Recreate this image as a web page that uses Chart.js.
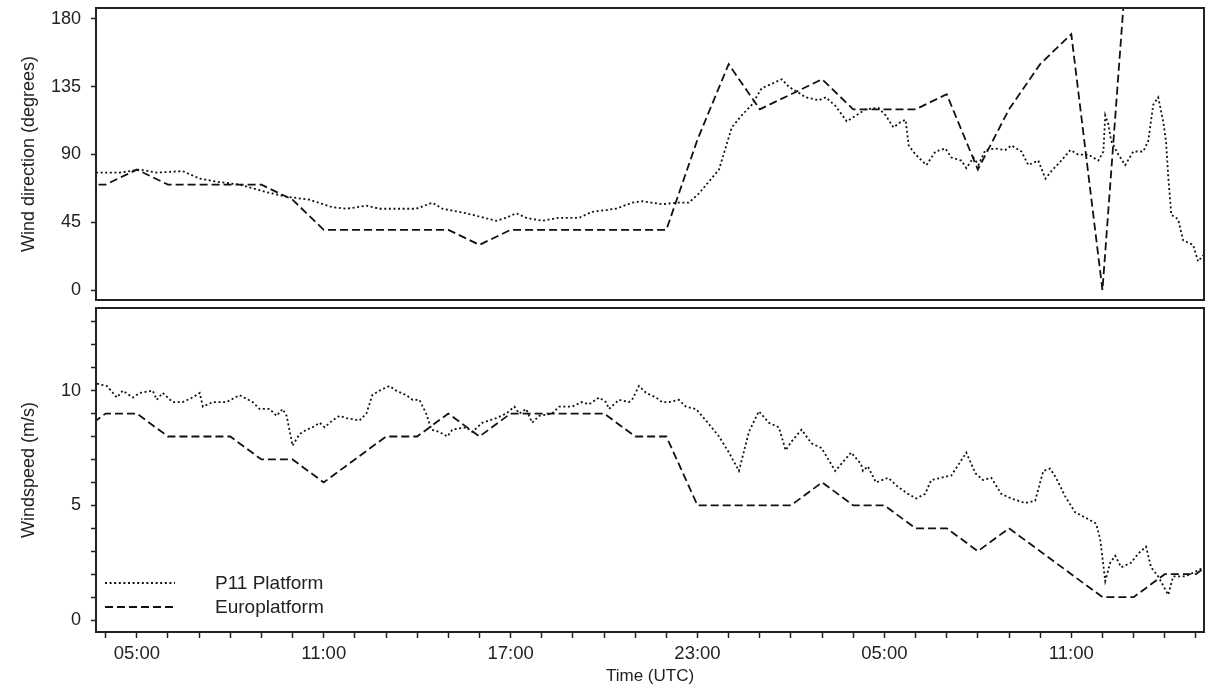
<!DOCTYPE html>
<html lang="en">
<head>
<meta charset="UTF-8">
<title>Wind direction and windspeed</title>
<script src="https://cdn.jsdelivr.net/npm/chart.js"></script>
<style>
  body { margin: 0; background: #fff; }
  canvas { position: absolute; left: 0; }
  #dirChart { top: 0; }
  #speedChart { top: 304px; }
</style>
</head>
<body>
<canvas id="dirChart" width="1206" height="304"></canvas>
<canvas id="speedChart" width="1206" height="389"></canvas>
<script>
// time in hours counted from 00:00 of the first day
const euroHours = [3, 4, 5, 6, 7, 8, 9, 10, 11, 12, 13, 14, 15, 16, 17, 18, 19, 20, 21,
  22, 23, 24, 25, 26, 27, 28, 29, 30, 31, 32, 33, 34, 35, 36, 37, 38, 39, 40];
const euroDir = [70, 70, 80, 70, 70, 70, 70, 60, 40, 40, 40, 40, 40, 30, 40, 40, 40, 40, 40,
  40, 100, 150, 120, 130, 140, 120, 120, 120, 130, 80, 120, 150, 170, 0, 280, null, null, null];
const euroSpeed = [8, 9, 9, 8, 8, 8, 7, 7, 6, 7, 8, 8, 9, 8, 9, 9, 9, 9, 8,
  8, 5, 5, 5, 5, 6, 5, 5, 4, 4, 3, 4, 3, 2, 1, 1, 2, 2, 3];

const p11DirHours = [3.69, 4.46, 5.10, 5.64, 6.47, 7.02, 7.56, 8.30, 9.17, 9.81, 10.54, 11.28,
  11.73, 12.37, 12.79, 13.43, 13.97, 14.49, 14.81, 15.58, 16.54, 16.86, 17.18, 17.50, 18.01,
  18.56, 19.20, 19.62, 20.38, 20.90, 21.22, 21.86, 22.31, 22.72, 23.04, 23.69, 24.10, 24.42,
  24.74, 25.06, 25.71, 25.93, 26.25, 26.47, 26.89, 27.12, 27.44, 27.79, 28.40, 28.81, 29.04,
  29.29, 29.55, 29.68, 29.78, 30.00, 30.35, 30.64, 30.96, 31.15, 31.47, 31.63, 31.86, 32.02,
  32.24, 32.56, 32.88, 33.08, 33.40, 33.62, 33.94, 34.17, 34.36, 34.68, 34.97, 35.22, 35.54,
  35.87, 36.03, 36.09, 36.19, 36.28, 36.51, 36.73, 36.99, 37.31, 37.47, 37.63, 37.79, 37.95,
  38.04, 38.11, 38.21, 38.43, 38.59, 38.91, 39.07, 39.23];
const p11Dir = [78, 78, 80, 78, 79, 74, 72, 70, 65, 62, 60, 55,
  54, 56, 54, 54, 54, 58, 54, 51, 46, 48, 51, 48, 46,
  48, 48, 52, 54, 58, 59, 57, 58, 58, 64, 80, 108, 116,
  123, 134, 140, 135, 131, 128, 126, 128, 122, 112, 120, 121, 116,
  108, 112, 113, 96, 90, 83, 92, 94, 88, 86, 81, 88, 83,
  93, 94, 93, 96, 92, 83, 86, 74, 79, 86, 93, 90, 90,
  86, 92, 116, 110, 99, 90, 83, 92, 92, 99, 123, 128, 112,
  99, 76, 50, 47, 33, 30, 19, 23];

const p11SpeedHours = [3.72, 4.04, 4.36, 4.55, 4.87, 5.10, 5.51, 5.64, 5.83, 6.15, 6.47, 6.79,
  7.02, 7.12, 7.44, 7.88, 8.30, 8.72, 8.94, 9.26, 9.49, 9.68, 9.81, 10.00, 10.22, 10.45, 10.64,
  10.87, 11.03, 11.28, 11.51, 11.73, 12.15, 12.37, 12.56, 12.79, 13.11, 13.33, 13.65, 13.85,
  14.07, 14.29, 14.46, 14.71, 14.97, 15.13, 15.58, 15.77, 16.09, 16.54, 16.86, 17.12, 17.28,
  17.50, 17.69, 17.92, 18.33, 18.56, 18.97, 19.29, 19.52, 19.84, 20.06, 20.16, 20.48, 20.80,
  20.90, 21.12, 21.35, 21.67, 21.86, 22.08, 22.40, 22.63, 22.95, 23.27, 23.69, 24.01, 24.33,
  24.65, 24.97, 25.29, 25.61, 25.83, 26.03, 26.34, 26.66, 26.98, 27.42, 27.93, 28.25, 28.31,
  28.47, 28.73, 29.12, 29.44, 29.76, 30.02, 30.31, 30.50, 30.82, 31.15, 31.63, 31.92, 32.17,
  32.43, 32.75, 33.07, 33.52, 33.84, 34.10, 34.32, 34.51, 34.80, 35.12, 35.54, 35.80, 35.93,
  36.09, 36.25, 36.41, 36.60, 36.92, 37.15, 37.40, 37.56, 37.79, 38.11, 38.27, 38.65, 38.97, 39.26];
const p11Speed = [10.3, 10.2, 9.7, 10.0, 9.7, 9.9, 10.0, 9.6, 9.9, 9.5, 9.5, 9.7,
  9.9, 9.3, 9.5, 9.5, 9.8, 9.5, 9.2, 9.2, 8.9, 9.2, 8.9, 7.6, 8.1, 8.3, 8.4,
  8.6, 8.4, 8.7, 8.9, 8.8, 8.7, 9.0, 9.8, 10.0, 10.2, 10.0, 9.8, 9.6,
  9.6, 9.0, 8.3, 8.2, 8.0, 8.3, 8.4, 8.2, 8.6, 8.8, 9.0, 9.3, 9.0,
  9.2, 8.6, 8.9, 9.0, 9.3, 9.3, 9.5, 9.4, 9.7, 9.5, 9.2, 9.6, 9.5,
  9.6, 10.2, 9.9, 9.7, 9.5, 9.5, 9.6, 9.3, 9.2, 8.7, 8.0, 7.3, 6.5,
  8.2, 9.1, 8.6, 8.4, 7.4, 7.8, 8.3, 7.7, 7.5, 6.5, 7.3, 6.8, 6.5,
  6.7, 6.0, 6.2, 5.8, 5.5, 5.3, 5.5, 6.1, 6.2, 6.3, 7.3, 6.4, 6.1,
  6.2, 5.5, 5.3, 5.1, 5.2, 6.5, 6.6, 6.2, 5.4, 4.7, 4.4, 4.2, 3.5,
  1.7, 2.5, 2.8, 2.3, 2.5, 2.9, 3.2, 2.3, 1.9, 1.1, 1.9, 1.9, 2.1, 2.3];

const timeTicks = [4, 5, 6, 7, 8, 9, 10, 11, 12, 13, 14, 15, 16, 17, 18, 19, 20, 21, 22, 23,
  24, 25, 26, 27, 28, 29, 30, 31, 32, 33, 34, 35, 36, 37, 38, 39];
const timeLabels = [5, 11, 17, 23, 29, 35];
const dirTicks = [0, 45, 90, 135, 180];
const speedTicks = [0, 1, 2, 3, 4, 5, 6, 7, 8, 9, 10, 11, 12, 13];
const speedLabels = [0, 5, 10];

const seriesNames = ['P11 Platform', 'Europlatform'];
const timeMin = 3.69, timeMax = 39.26;

Chart.defaults.font.family = '"Liberation Sans", Arial, sans-serif';
Chart.defaults.color = '#222';
Chart.defaults.animation = false;

function points(xs, ys) {
  return xs.map((x, i) => ({ x: x, y: ys[i] }));
}

function lineSet(label, data, dash) {
  return {
    label: label,
    data: data,
    borderColor: '#111',
    borderWidth: 1.8,
    borderDash: dash,
    borderCapStyle: 'butt',
    pointRadius: 0,
    tension: 0,
    fill: false
  };
}

const DOTTED = [2, 2.6];
const DASHED = [8, 4];

// box round the plotting region
const frame = {
  id: 'frame',
  afterDatasetsDraw(chart) {
    const a = chart.chartArea, ctx = chart.ctx;
    ctx.save();
    ctx.strokeStyle = '#222';
    ctx.lineWidth = 2;
    ctx.strokeRect(a.left, a.top, a.right - a.left, a.bottom - a.top);
    ctx.restore();
  }
};

// line-style key in the lower left corner of the speed panel
const lineKey = {
  id: 'lineKey',
  afterDraw(chart) {
    const a = chart.chartArea, ctx = chart.ctx;
    ctx.save();
    chart.data.datasets.forEach((ds, i) => {
      const y = a.bottom - 49 + i * 24;
      ctx.strokeStyle = ds.borderColor;
      ctx.lineWidth = ds.borderWidth;
      ctx.setLineDash(ds.borderDash);
      ctx.beginPath();
      ctx.moveTo(a.left + 9, y);
      ctx.lineTo(a.left + 79, y);
      ctx.stroke();
      ctx.setLineDash([]);
      ctx.fillStyle = '#222';
      ctx.font = '19px "Liberation Sans", Arial, sans-serif';
      ctx.textBaseline = 'middle';
      ctx.fillText(ds.label, a.left + 119, y + 1);
    });
    ctx.restore();
  }
};

function noPadding(scale) {
  scale.paddingTop = 0;
  scale.paddingBottom = 0;
  scale.paddingLeft = 0;
  scale.paddingRight = 0;
}

function yAxis(title, min, max, tickValues, label) {
  return {
    type: 'linear',
    min: min,
    max: max,
    afterBuildTicks: s => { s.ticks = tickValues.map(v => ({ value: v })); },
    afterFit: s => { s.width = 96; noPadding(s); },
    ticks: { font: { size: 18 }, padding: 10, callback: label },
    grid: { drawOnChartArea: false, drawTicks: true, tickLength: 5, tickColor: '#222', tickWidth: 1.5 },
    border: { display: false },
    title: { display: true, text: title, font: { size: 18 }, padding: { top: 18, bottom: 0 } }
  };
}

function timeLabel(v) {
  if (!timeLabels.includes(v)) return '';
  return String(v % 24).padStart(2, '0') + ':00';
}

new Chart(document.getElementById('dirChart'), {
  type: 'line',
  data: {
    datasets: [
      lineSet(seriesNames[0], points(p11DirHours, p11Dir), DOTTED),
      lineSet(seriesNames[1], points(euroHours, euroDir), DASHED)
    ]
  },
  options: {
    responsive: false,
    layout: { padding: { top: 8, right: 2, bottom: 4, left: 0 } },
    plugins: { legend: { display: false }, tooltip: { enabled: false } },
    scales: {
      x: {
        type: 'linear',
        min: timeMin,
        max: timeMax,
        afterBuildTicks: s => { s.ticks = timeTicks.map(v => ({ value: v })); },
        afterFit: s => { s.height = 0; noPadding(s); },
        ticks: { display: false },
        grid: { display: false },
        border: { display: false }
      },
      y: yAxis('Wind direction (degrees)', -6.6, 187.3, dirTicks, v => String(v))
    }
  },
  plugins: [frame]
});

new Chart(document.getElementById('speedChart'), {
  type: 'line',
  data: {
    datasets: [
      lineSet(seriesNames[0], points(p11SpeedHours, p11Speed), DOTTED),
      lineSet(seriesNames[1], points(euroHours, euroSpeed), DASHED)
    ]
  },
  options: {
    responsive: false,
    layout: { padding: { top: 4, right: 2, bottom: 0, left: 0 } },
    plugins: { legend: { display: false }, tooltip: { enabled: false } },
    scales: {
      x: {
        type: 'linear',
        min: timeMin,
        max: timeMax,
        afterBuildTicks: s => { s.ticks = timeTicks.map(v => ({ value: v })); },
        afterFit: s => { s.height = 61; noPadding(s); },
        ticks: { font: { size: 18.5 }, padding: 5, maxRotation: 0, autoSkip: false, callback: timeLabel },
        grid: { drawOnChartArea: false, drawTicks: true, tickLength: 6, tickColor: '#222', tickWidth: 1.5 },
        border: { display: false },
        title: { display: true, text: 'Time (UTC)', font: { size: 17 }, padding: { top: 0, bottom: 6 } }
      },
      y: yAxis('Windspeed (m/s)', -0.52, 13.6, speedTicks,
        v => speedLabels.includes(v) ? String(v) : '')
    }
  },
  plugins: [frame, lineKey]
});
</script>
</body>
</html>
